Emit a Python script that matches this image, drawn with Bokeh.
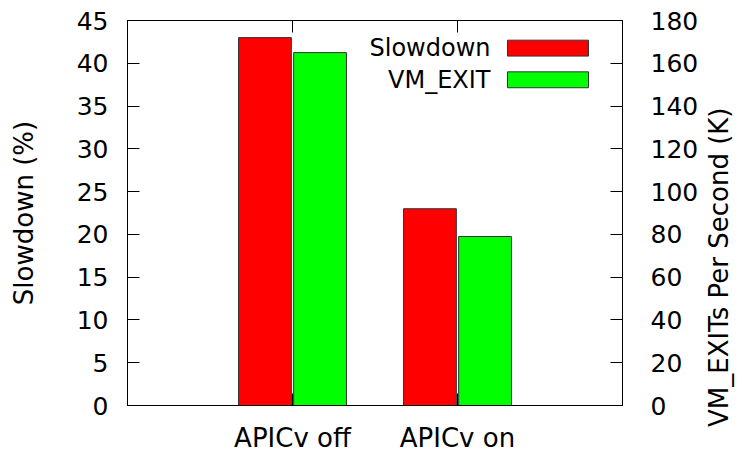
import math
from bokeh.plotting import figure
from bokeh.models import Range1d, LinearAxis, FixedTicker, Label
from bokeh.embed import file_html
from bokeh.resources import INLINE

# ---- data ----
categories = ["APICv off", "APICv on"]
slowdown = [43, 23]          # Slowdown (%), left axis
vm_exits = [165, 79]         # VM_EXITs per second (K), right axis
left_ticks = [0, 5, 10, 15, 20, 25, 30, 35, 40, 45]
right_ticks = [0, 20, 40, 60, 80, 100, 120, 140, 160, 180]
right_title = "VM_EXITs Per Second (K)"

FONT = "DejaVu Sans"

xpos = [i + 1 for i in range(len(categories))]
p = figure(width=756, height=455, output_backend="svg", toolbar_location=None,
           x_range=Range1d(0, len(categories) + 1), y_range=Range1d(0, 45),
           min_border_left=127, min_border_right=134, min_border_top=20,
           min_border_bottom=48, x_axis_location=None, y_axis_location=None)
p.extra_y_ranges = {"right": Range1d(0, 180)}
p.grid.visible = False
p.outline_line_color = "black"
p.outline_line_width = 1
p.background_fill_color = "white"
p.border_fill_color = "white"

bw = 0.32
off = 0.167
p.vbar(x=[x - off for x in xpos], top=slowdown, width=bw, bottom=0,
       fill_color="#ff0000", line_color="#333333", line_width=1)
p.vbar(x=[x + off for x in xpos], top=vm_exits, width=bw, bottom=0,
       fill_color="#00ff00", line_color="#333333", line_width=1,
       y_range_name="right")

def style(ax):
    ax.major_label_text_font = FONT
    ax.major_label_text_font_size = "25px"
    ax.axis_label_text_font = FONT
    ax.axis_label_text_font_size = "26px"
    ax.axis_label_text_font_style = "normal"
    ax.major_tick_in = 12
    ax.major_tick_out = 0
    ax.minor_tick_in = 0
    ax.minor_tick_out = 0
    ax.axis_line_color = "black"
    ax.major_tick_line_color = "black"
    ax.major_label_text_color = "black"
    ax.axis_label_text_color = "black"

ly = LinearAxis(axis_label="Slowdown (%)", ticker=FixedTicker(ticks=left_ticks))
style(ly)
ly.major_label_standoff = 19
ly.axis_label_standoff = 35
p.add_layout(ly, "left")

ry = LinearAxis(y_range_name="right", ticker=FixedTicker(ticks=right_ticks))
style(ry)
ry.major_label_standoff = 28
p.add_layout(ry, "right")

# right-hand title, reading bottom-to-top as in the reference
mid = (right_ticks[0] + right_ticks[-1]) // 2
rt = LinearAxis(y_range_name="right", ticker=FixedTicker(ticks=[mid]),
                major_label_overrides={mid: right_title})
style(rt)
rt.major_tick_in = 0
rt.axis_line_color = None
rt.major_label_text_font_size = "26px"
rt.major_label_text_line_height = 1.0
rt.major_label_orientation = math.pi / 2
rt.major_label_standoff = 18
p.add_layout(rt, "right")

bx = LinearAxis(ticker=FixedTicker(ticks=xpos),
                major_label_overrides={x: c for x, c in zip(xpos, categories)})
style(bx)
bx.major_label_text_font_size = "26px"
bx.major_label_standoff = 17
p.add_layout(bx, "below")

tx = LinearAxis(ticker=FixedTicker(ticks=xpos),
                major_label_overrides={x: "" for x in xpos})
style(tx)
tx.major_label_standoff = 0
p.add_layout(tx, "above")

# ---- legend (label left, swatch right, like gnuplot) ----
leg_names = ["Slowdown", "VM_EXIT"]
leg_colors = ["#ff0000", "#00ff00"]
leg_top = [42.7, 39.0]
sw_h = 1.86
for name, col, top in zip(leg_names, leg_colors, leg_top):
    p.quad(left=[2.303], right=[2.794], top=[top], bottom=[top - sw_h],
           fill_color=col, line_color="#333333", line_width=1)
    p.add_layout(Label(x=2.2, y=top - sw_h / 2, text=name, text_align="right",
                       text_baseline="middle", text_font=FONT,
                       text_font_size="24px", text_color="black"))

open("out.html", "w").write(file_html(p, INLINE))
